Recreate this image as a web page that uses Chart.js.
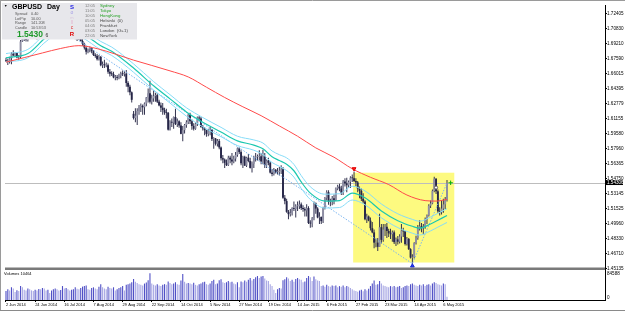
<!DOCTYPE html>
<html><head><meta charset="utf-8">
<script src="https://cdn.jsdelivr.net/npm/chart.js@4/dist/chart.umd.min.js"></script>
<style>html,body{margin:0;padding:0;background:#fff;overflow:hidden}#wrap{position:relative;width:625px;height:311px}canvas{display:block}</style>
</head><body><div id="wrap"><canvas id="c" width="625" height="311"></canvas></div>
<script>
// ---------- DATA (prices in 1/10000 units) ----------
const opens = [
16745,16735,16725,16765,16815,16795,16820,16775,16780,16945,
16975,16980,16960,17000,17030,17015,17015,16985,17000,17025,
17015,17105,17155,17165,17160,17155,17155,17120,17150,17110,
17110,17105,17140,17135,17095,17085,17080,17050,17045,16975,
16980,16990,16950,16920,16880,16835,16860,16875,16840,16800,
16790,16755,16780,16690,16700,16690,16690,16620,16600,16595,
16560,16565,16555,16580,16600,16595,16600,16500,16460,16400,
16170,16125,16150,16200,16240,16255,16240,16280,16345,16390,
16300,16335,16360,16370,16300,16260,16235,16210,16185,16180,
16000,16085,16075,16135,16060,16090,16045,15955,15995,16050,
16080,16160,16090,16040,16010,16065,16130,16120,16030,16015,
15995,15955,15985,16000,15900,15905,15850,15880,15810,15695,
15680,15645,15620,15700,15680,15660,15690,15730,15800,15760,
15640,15710,15615,15700,15665,15590,15635,15700,15710,15710,
15715,15660,15715,15620,15670,15645,15540,15525,15570,15545,
15545,15560,15575,15270,15235,15120,15095,15105,15160,15150,
15180,15180,15200,15160,15150,15135,15160,15000,14995,15050,
15210,15155,15060,15065,15020,15160,15270,15330,15230,15230,
15265,15245,15370,15390,15370,15325,15445,15425,15405,15440,
15485,15480,15450,15435,15370,15345,15260,15230,15040,15070,
15025,14945,14900,14790,14790,14745,14955,14820,14930,14960,
14915,14890,14880,14900,14795,14825,14800,14855,14920,14910,
14775,14830,14720,14630,14635,14785,14840,14940,14965,14945,
14960,15040,15080,15185,15210,15345,15475,15340,15125,15115,
15155,15200,15245];
const highs = [
16770,16760,16780,16830,16850,16830,16825,16800,16960,16990,
17000,17000,17010,17063,17045,17035,17040,17010,17040,17045,
17115,17170,17180,17180,17170,17165,17170,17160,17160,17125,
17130,17191,17150,17140,17110,17095,17090,17070,17055,17000,
17000,17000,16985,16930,16880,16870,16890,16880,16850,16820,
16810,16800,16790,16730,16750,16720,16710,16650,16625,16620,
16585,16585,16600,16620,16635,16625,16640,16520,16480,16410,
16200,16230,16230,16265,16280,16270,16290,16350,16440,16525,
16375,16420,16395,16390,16320,16290,16285,16235,16225,16190,
16100,16120,16140,16225,16120,16100,16080,16040,16060,16100,
16170,16180,16110,16070,16080,16140,16150,16135,16050,16030,
16000,16010,16030,16005,15920,15910,15900,15900,15820,15730,
15690,15680,15720,15720,15750,15720,15760,15810,15810,15780,
15720,15720,15710,15740,15700,15660,15720,15750,15735,15780,
15750,15785,15750,15680,15700,15660,15580,15590,15580,15590,
15600,15620,15600,15300,15260,15140,15150,15170,15230,15200,
15230,15240,15220,15190,15170,15200,15180,15030,15065,15230,
15220,15170,15115,15070,15175,15280,15350,15350,15260,15290,
15305,15380,15410,15420,15400,15460,15480,15485,15455,15500,
15520,15552,15480,15450,15390,15370,15320,15245,15100,15080,
15060,15010,14930,14835,14840,15100,14990,14990,14990,15000,
14940,14940,14920,14920,14845,14860,14880,14990,14950,14915,
14850,14840,14730,14665,14795,14865,14980,15030,15000,14990,
15060,15090,15200,15240,15360,15497,15480,15360,15170,15240,
15260,15280,15460];
const lows = [
16725,16693,16710,16700,16790,16780,16765,16750,16760,16940,
16950,16945,16945,16990,16995,16990,16975,16965,16990,16995,
17010,17095,17140,17130,17140,17130,17110,17100,17100,17085,
17090,17095,17110,17080,17060,17060,17030,17020,16970,16950,
16960,16945,16900,16860,16805,16820,16830,16820,16790,16770,
16740,16740,16680,16660,16660,16670,16600,16570,16575,16550,
16530,16530,16540,16550,16575,16570,16460,16400,16370,16290,
16110,16080,16051,16160,16190,16160,16160,16250,16290,16280,
16270,16300,16300,16285,16250,16190,16160,16160,16120,15990,
15990,16030,16010,16050,16030,16020,15950,15875,15960,16020,
16060,16060,16000,15990,16000,16040,16090,16020,15990,15940,
15925,15930,15940,15880,15795,15830,15820,15790,15670,15640,
15590,15610,15610,15640,15620,15640,15660,15710,15740,15620,
15590,15610,15600,15650,15585,15540,15590,15660,15670,15670,
15630,15630,15590,15590,15620,15530,15500,15510,15530,15520,
15510,15525,15260,15200,15110,15040,15070,15080,15130,15060,
15130,15150,15140,15120,15070,15070,14990,14950,14955,15030,
15100,15050,14990,14990,15000,15145,15240,15195,15180,15190,
15200,15235,15350,15340,15300,15300,15390,15330,15380,15375,
15440,15440,15395,15330,15265,15235,15210,15030,15000,15020,
14920,14890,14730,14740,14700,14745,14780,14800,14860,14840,
14850,14830,14800,14775,14755,14770,14780,14790,14850,14760,
14760,14710,14620,14565,14620,14770,14820,14920,14900,14880,
14940,14990,15070,15160,15200,15330,15310,15110,15080,15090,
15110,15150,15230];
const closes = [
16735,16725,16765,16815,16795,16820,16775,16780,16945,16975,
16980,16960,17000,17030,17015,17015,16985,17000,17025,17015,
17105,17155,17165,17160,17155,17155,17120,17150,17110,17110,
17105,17140,17135,17095,17085,17080,17050,17045,16975,16980,
16990,16950,16920,16880,16835,16860,16875,16840,16800,16790,
16755,16780,16690,16700,16690,16690,16620,16600,16595,16560,
16565,16555,16580,16600,16595,16600,16500,16460,16400,16320,
16125,16150,16200,16240,16255,16240,16280,16345,16390,16300,
16335,16360,16370,16300,16260,16235,16210,16185,16180,16000,
16085,16075,16135,16060,16090,16045,15955,15995,16050,16080,
16160,16090,16040,16010,16065,16130,16120,16030,16015,15995,
15955,15985,16000,15900,15905,15850,15880,15810,15695,15680,
15645,15620,15700,15680,15660,15690,15730,15800,15760,15640,
15710,15615,15700,15665,15590,15635,15700,15710,15710,15715,
15660,15715,15620,15670,15645,15540,15525,15570,15545,15545,
15560,15575,15270,15235,15120,15095,15105,15160,15150,15180,
15180,15200,15160,15150,15135,15160,15000,14995,15050,15210,
15155,15060,15065,15020,15160,15270,15330,15230,15230,15265,
15245,15370,15390,15370,15325,15445,15425,15405,15440,15485,
15480,15450,15435,15370,15345,15260,15230,15040,15070,15025,
14945,14900,14790,14790,14745,14955,14820,14930,14960,14915,
14890,14880,14900,14795,14825,14800,14855,14920,14910,14775,
14830,14720,14630,14635,14785,14840,14940,14965,14945,14960,
15040,15080,15185,15210,15345,15475,15340,15125,15115,15155,
15200,15245,15430];
const volumes = [
28400,34100,30200,40500,36300,25200,30800,28300,44600,40100,
32500,30100,36200,34400,30600,28200,32300,30500,35200,34000,
38100,36400,30300,32200,22500,30100,34300,36500,34200,30400,
32100,44300,36200,38400,34100,30300,32500,34200,40600,36100,
34300,38200,42500,44100,46300,34200,32400,38300,40200,36500,
34100,42300,50400,40200,36300,34500,42100,38300,36200,40400,
30200,34300,38500,40100,44200,30400,48300,50100,52400,56200,
66300,58100,54200,50400,48300,46100,52200,55300,62400,84588,
52300,48200,46400,50100,46300,44500,48200,50300,48100,58400,
54200,50300,52100,56400,50200,48300,62100,82400,58300,52200,
54100,52300,50200,54400,48100,46300,50200,52400,56100,58300,
50200,48400,52100,60300,64200,50100,52300,62400,66100,56300,
54200,56400,60100,56300,58200,52400,50100,56300,40200,58400,
56200,62300,58100,64400,70200,62100,66300,72400,76100,70200,
74300,76400,68200,62100,60300,50200,44100,32300,22400,34200,
38100,36300,62400,66200,72100,68300,60200,64400,58100,66300,
70200,66100,64300,56200,58400,70100,76300,72200,60100,74300,
66200,62100,60300,44200,46100,42300,48200,44100,42300,46200,
44100,46300,40200,44100,42300,46200,40100,44300,42200,38100,
34200,30100,28300,26200,30100,32300,28100,34200,30300,36100,
44200,52300,62100,48300,50100,60200,52400,46100,44300,42200,
40300,44100,42200,44300,40100,42300,44200,38100,40300,44200,
46100,44300,50200,52100,48300,46200,44100,48300,46100,50200,
44300,48100,50200,46300,52100,56300,54200,50100,48300,46200,
52300,50100,10464];

// moving average (red), read at sample bars
const maBars = [0,10,20,30,40,50,60,70,80,90,100,110,120,130,140,150,160,170,180,190,200,210,220,230,236,242];
const maVals = [1.6723,1.6772,1.6822,1.6870,1.6900,1.6868,1.6810,1.6745,1.6688,1.6630,1.6565,1.6455,1.6345,1.6245,1.6150,1.6040,1.5930,1.5805,1.5705,1.5581,1.5490,1.5412,1.5300,1.5240,1.5235,1.5253];
// channel (teal centre, light-cyan upper / lower), read at sample bars
const bandBars = [0,12,22,32,42,52,58,70,81,90,99,108,118,127,136,141,146,150,154,158,162,167,175,183,190,197,206,215,223,227,233,237,242];
const bandMid = [1.6770,1.6815,1.6990,1.7110,1.7030,1.6900,1.6840,1.6660,1.6470,1.6330,1.6190,1.6080,1.5975,1.5880,1.5835,1.5795,1.5710,1.5670,1.5630,1.5560,1.5440,1.5320,1.5235,1.5240,1.5320,1.5270,1.5130,1.5025,1.4965,1.4945,1.4990,1.5030,1.5080];
const bandUp = [1.6815,1.6860,1.7035,1.7155,1.7075,1.6945,1.6885,1.6705,1.6515,1.6375,1.6235,1.6130,1.6025,1.5930,1.5890,1.5857,1.5772,1.5732,1.5698,1.5628,1.5508,1.5388,1.5309,1.5314,1.5394,1.5344,1.5204,1.5099,1.5039,1.5019,1.5064,1.5104,1.5154];
const bandLow = [1.6725,1.6770,1.6945,1.7065,1.6985,1.6855,1.6795,1.6615,1.6425,1.6285,1.6145,1.6030,1.5925,1.5830,1.5780,1.5733,1.5648,1.5608,1.5562,1.5492,1.5372,1.5252,1.5161,1.5166,1.5246,1.5196,1.5056,1.4951,1.4891,1.4871,1.4916,1.4956,1.5006];
// dotted trend line
const trendBars = [40,223,242];
const trendVals = [1.6955,1.4565,1.5430];
// markers
const downArrow = {bar:191, price:1.5581};
const upArrow = {bar:223, price:1.4540};
const dotMark = {bar:236, price:1.5380};
const crossMark = {bar:244, price:1.5431};
// rectangle object
const boxBars = [190.5, 246];
const boxPrices = [1.4577, 1.5539];
const lastPrice = 1.54306;
const lastPriceText = '1.54306';
const volMaxLabel = 84588;
const currentVolume = 10464;
// axis labels
const dateBars = [0,16,32,48,64,80,96,112,128,144,160,176,192,208,224,240];
const dateLabels = ['2 Jun 2014','24 Jun 2014','16 Jul 2014','7 Aug 2014','29 Aug 2014','22 Sep 2014','14 Oct 2014','5 Nov 2014','27 Nov 2014','19 Dec 2014','14 Jan 2015','6 Feb 2015','27 Feb 2015','23 Mar 2015','14 Apr 2015','6 May 2015'];
const priceTickLabels = ['1.72405','1.70830','1.69210','1.67590','1.66015','1.64395','1.62779','1.61155','1.59580','1.57960','1.56365','1.54750','1.53145','1.51525','1.49960','1.48330','1.46710','1.45135'];

// ---------- CHART ----------
const FONT = 'Liberation Sans, Arial, sans-serif';
Chart.defaults.font.family = FONT;
const idx = closes.map((_, i) => i);
const P = v => v / 10000;
const pts = (bars, vals) => bars.map((b, i) => ({x: b, y: vals[i]}));

const overlay = {
  id: 'overlay',
  beforeDatasetsDraw(chart) {
    const {ctx, chartArea: a, scales: {x, y}} = chart;
    ctx.save();
    const x0 = x.getPixelForValue(boxBars[0]), x1 = x.getPixelForValue(boxBars[1]);
    const y0 = y.getPixelForValue(boxPrices[1]), y1 = y.getPixelForValue(boxPrices[0]);
    ctx.fillStyle = '#fdfa80';
    ctx.fillRect(x0, y0, x1 - x0, y1 - y0);
    const yp = Math.round(y.getPixelForValue(lastPrice)) + 0.5;
    ctx.strokeStyle = '#bdbdbd'; ctx.lineWidth = 1;
    ctx.beginPath(); ctx.moveTo(a.left, yp); ctx.lineTo(a.right, yp); ctx.stroke();
    ctx.restore();
  },
  afterDatasetsDraw(chart) {
    const {ctx, chartArea: a} = chart;
    ctx.save();
    // panel separator
    ctx.fillStyle = '#7a7a7a';
    ctx.fillRect(a.left, 267.5, a.right - a.left, 2.5);
    // info panel
    ctx.fillStyle = '#e7e7eb';
    ctx.fillRect(2, 3, 135, 36.5);
    const t = (s, x, yy, font, color, align) => {
      ctx.font = font; ctx.fillStyle = color; ctx.textAlign = align || 'left'; ctx.textBaseline = 'middle';
      ctx.fillText(s, x, yy);
    };
    t('\u25BC', 4, 6.5, '3.5px ' + FONT, '#000');
    t('GBPUSD', 12, 7, 'bold 7px ' + FONT, '#000');
    t('Day', 47, 7, 'bold 7px ' + FONT, '#000');
    const info = [['Spread','0.40'],['LotPip','10.00'],['Range','141.208'],['Candle','10:53:53']];
    info.forEach((r, i) => { t(r[0], 15, 14 + i * 4.5, '3.8px ' + FONT, '#555'); t(r[1], 31, 14 + i * 4.5, '3.8px ' + FONT, '#555'); });
    t('1.5430', 17, 34.5, 'bold 8.5px ' + FONT, '#1e9a2a');
    t('6', 45.5, 35.5, '5px ' + FONT, '#333');
    t('S', 72, 7, 'bold 6px ' + FONT, '#1a1ae6', 'center');
    t('o', 72, 12.5, '5px ' + FONT, '#a49ce6', 'center');
    t('m', 72, 17.5, '4px ' + FONT, '#d8c4dc', 'center');
    t('l', 72, 22.5, '4.5px ' + FONT, '#e07ab0', 'center');
    t('c', 72, 28, '5px ' + FONT, '#e03030', 'center');
    t('R', 72, 34.5, 'bold 6px ' + FONT, '#e00000', 'center');
    const times = ['12:05','11:05','10:05','05:05','04:05','03:05','22:05'];
    const cities = ['Sydney','Tokyo','HongKong','Helsinki  (0)','Frankfurt','London  (G+1)','NewYork'];
    const ys = [5.7, 10.7, 15.7, 20.7, 25.5, 30.5, 35.5];
    times.forEach((s, i) => t(s, 85, ys[i], '4px ' + FONT, '#7a7a7a'));
    cities.forEach((s, i) => t(s, 100, ys[i], '4.3px ' + FONT, i < 3 ? '#22a022' : '#444'));
    t('Volumes ' + currentVolume, 4, 274, '4px ' + FONT, '#000');
    ctx.restore();
  },
  afterDraw(chart) {
    const {ctx, chartArea: a, scales: {y, vol}} = chart;
    ctx.save();
    const yp = y.getPixelForValue(lastPrice);
    ctx.fillStyle = '#000';
    ctx.fillRect(a.right, yp - 2.8, 18, 5);
    ctx.font = '4.6px ' + FONT; ctx.fillStyle = '#fff'; ctx.textBaseline = 'middle'; ctx.textAlign = 'left';
    ctx.fillText(lastPriceText, a.right + 2, yp);
    ctx.fillStyle = '#000';
    ctx.fillText(String(volMaxLabel), a.right + 2, vol.getPixelForValue(volMaxLabel));
    ctx.fillText('0', a.right + 2, vol.getPixelForValue(0) - 2);
    ctx.strokeStyle = '#9a9a9a'; ctx.lineWidth = 1;
    ctx.beginPath(); ctx.moveTo(0.5, 0); ctx.lineTo(0.5, 311); ctx.stroke();
    ctx.beginPath(); ctx.moveTo(0, 0.5); ctx.lineTo(625, 0.5); ctx.stroke();
    ctx.strokeStyle = '#8a8a8a';
    ctx.beginPath(); ctx.moveTo(0, 310.5); ctx.lineTo(625, 310.5); ctx.stroke();
    ctx.restore();
  }
};

const lineDs = (data, color, width, extra) => Object.assign({
  type: 'line', data, borderColor: color, borderWidth: width, pointRadius: 0,
  cubicInterpolationMode: 'monotone', yAxisID: 'y', order: 1, fill: false
}, extra || {});
const markDs = (m, style, color, border, radius, rot) => ({
  type: 'line', data: [{x: m.bar, y: m.price}], showLine: false, yAxisID: 'y', order: 0,
  pointStyle: style, pointRadius: radius, pointBackgroundColor: color, pointBorderColor: border,
  pointBorderWidth: 1, pointRotation: rot || 0
});

new Chart(document.getElementById('c'), {
  type: 'bar',
  data: {
    datasets: [
      markDs(crossMark, 'cross', '#00b000', '#00b000', 2.2),
      markDs(downArrow, 'triangle', '#ff2020', '#e00000', 2.2, 180),
      markDs(upArrow, 'triangle', '#2a3cff', '#1020d0', 2.2),
      markDs(dotMark, 'circle', '#ffffff', '#606060', 1.6),
      lineDs(pts(maBars, maVals), '#ff4a4a', 1),
      lineDs(pts(bandBars, bandMid), '#1cc8b0', 1.2),
      lineDs(pts(bandBars, bandUp), '#86dcf8', 1),
      lineDs(pts(bandBars, bandLow), '#86dcf8', 1),
      lineDs(pts(trendBars, trendVals), '#79b4f0', 1, {borderDash: [1.5, 1.5], cubicInterpolationMode: 'default', tension: 0}),
      { type: 'bar', data: idx.map(i => ({x: i, y: [P(opens[i]), P(closes[i])]})), yAxisID: 'y', order: 2,
        grouped: false, barThickness: 1.9, minBarLength: 0.8, inflateAmount: 0,
        backgroundColor: idx.map(i => closes[i] >= opens[i] ? '#8e8ea4' : '#262648') },
      { type: 'bar', data: idx.map(i => ({x: i, y: [P(lows[i]), P(highs[i])]})), yAxisID: 'y', order: 3,
        grouped: false, barThickness: 1, inflateAmount: 0, backgroundColor: '#33334f' },
      { type: 'bar', data: idx.map(i => ({x: i, y: volumes[i]})), yAxisID: 'vol', order: 4,
        grouped: false, barThickness: 1.1, inflateAmount: 0,
        backgroundColor: idx.map(i => (i === 0 || volumes[i] >= volumes[i - 1]) ? '#5050c6' : '#a8a8e4') }
    ]
  },
  options: {
    responsive: false, animation: false, devicePixelRatio: 1,
    layout: {padding: {top: 1, left: 0, right: 0, bottom: 0}},
    plugins: {legend: {display: false}, tooltip: {enabled: false}},
    scales: {
      x: {
        type: 'linear', min: -0.544, max: 328.7, offset: false, bounds: 'data', position: 'bottom',
        afterBuildTicks: s => { s.ticks = dateBars.map(v => ({value: v})); },
        afterFit: s => { s.height = 11; },
        ticks: {autoSkip: false, maxRotation: 0, minRotation: 0, align: 'start', padding: 0.5,
          font: {size: 4, family: FONT}, color: '#000', callback: (v, i) => dateLabels[i]},
        grid: {drawOnChartArea: false, drawTicks: true, tickLength: 2, color: '#000', offset: false},
        border: {display: true, color: '#000', width: 1}
      },
      y: {
        type: 'linear', position: 'right', min: 1.41754, max: 1.73356, bounds: 'data',
        afterBuildTicks: s => { s.ticks = priceTickLabels.map(v => ({value: parseFloat(v)})); },
        afterFit: s => { s.width = 20; },
        ticks: {autoSkip: false, padding: 0, font: {size: 4.6, family: FONT}, color: '#000',
          callback: (v, i) => priceTickLabels[i]},
        grid: {drawOnChartArea: false, drawTicks: true, tickLength: 2, color: '#000'},
        border: {display: true, color: '#000', width: 1}
      },
      vol: {type: 'linear', display: false, min: 0, max: 936734}
    }
  },
  plugins: [overlay]
});
</script>
</body></html>
